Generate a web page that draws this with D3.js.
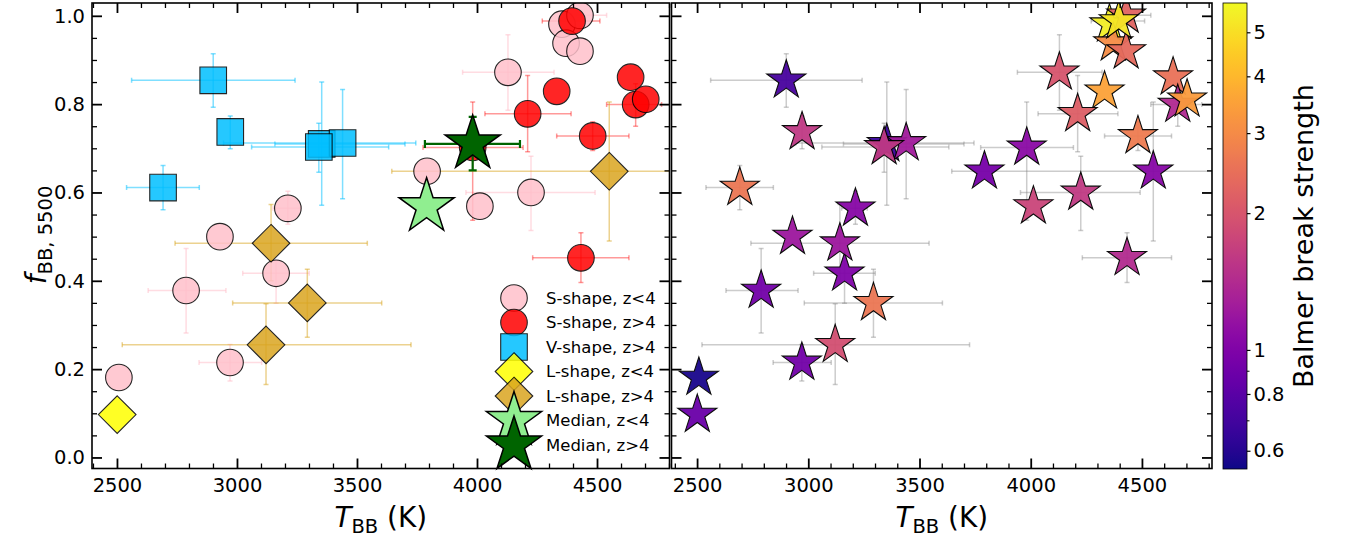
<!DOCTYPE html>
<meta charset="utf-8">
<title>Blackbody fraction vs temperature</title>
<script src="https://d3js.org/d3.v7.min.js"></script>
<style>
  body { margin: 0; background: #fff; }
  text { font-family: "DejaVu Sans", sans-serif; fill: #000; }
</style>
<body>
<svg width="1348" height="544"></svg>
<script>

// ---- data ----
// S-shape, z<4
var sLowT = [2508, 2788, 2929, 2971, 3163, 3212, 3792, 4012, 4225, 4129, 4354, 4429, 4371, 4429];
var sLowF = [0.181, 0.378, 0.500, 0.215, 0.417, 0.564, 0.648, 0.569, 0.600, 0.872, 0.981, 1.001, 0.938, 0.920];
var sLowTerr = [null, [2630, 2954], null, [2842, 3103], [3024, 3301], [3150, 3265], null, null, [3954, 4492], [3940, 4321], null, [4395, 4540], null, null];
var sLowFerr = [null, [0.282, 0.473], null, [0.173, 0.256], [0.349, 0.446], [0.528, 0.603], null, null, [0.514, 0.682], [0.786, 0.957], null, null, null, null];
var sLowBalmer = [0.57, 0.92, 1.2, 0.92, 1.0, 1.05, 0.95, 1.75, 1.6, 2.0, 5.5, 2.25, 3.05, 2.35];

// S-shape, z>4
var sHighT = [4396, 4332, 4211, 4482, 4640, 4661, 4703, 4433, 3982];
var sHighF = [0.988, 0.829, 0.778, 0.728, 0.861, 0.799, 0.811, 0.452, 0.702];
var sHighTerr = [[4272, 4512], null, [4033, 4392], [4332, 4633], null, [4540, 4769], null, [4232, 4633], [3775, 4192]];
var sHighFerr = [null, null, [0.692, 0.865], [0.695, 0.760], null, [0.750, 0.846], null, [0.396, 0.509], [0.537, 0.805]];
var sHighBalmer = [5.2, 3.5, 2.15, 2.7, 2.5, 1.4, 3.35, 1.42, 1.08];

// V-shape, z>4
var vHighT = [2901, 2972, 2692, 3353, 3440, 3341];
var vHighF = [0.854, 0.737, 0.611, 0.710, 0.712, 0.703];
var vHighTerr = [[2561, 3242], null, [2540, 2843], [3158, 3700], [2944, 3745], [3061, 3632]];
var vHighFerr = [[0.793, 0.914], [0.699, 0.773], [0.561, 0.661], [0.571, 0.850], [0.586, 0.833], [0.646, 0.757]];
var vHighBalmer = [0.72, 1.58, 2.6, 0.66, 1.25, 1.58];

// L-shape, z<4
var lLowT = [2501];
var lLowF = [0.097];
var lLowBalmer = [0.88];

// L-shape, z>4
var lHighT = [3142, 3293, 3121, 4551];
var lHighF = [0.485, 0.350, 0.255, 0.648];
var lHighTerr = [[2742, 3543], [2982, 3603], [2522, 3725], [3645, 4850]];
var lHighFerr = [[0.400, 0.573], [0.272, 0.426], [0.165, 0.348], [0.490, 0.805]];
var lHighBalmer = [1.2, 2.6, 1.9, 1.05];

// medians
var medLowT = [3790], medLowF = [0.568];
var medHighT = [3982], medHighF = [0.710];
var medHighTerr = [[3783, 4179]], medHighFerr = [[0.650, 0.771]];

var xMajorTicks = [2500, 3000, 3500, 4000, 4500];
var yMajorTicks = [0, 0.2, 0.4, 0.6, 0.8, 1.0];
var cbarTicks = [0.6, 0.8, 1, 2, 3, 4, 5];
var cbarMinor = [0.7, 0.9];

// ---- groups built from the arrays ----
var groups = [
  {name: "S-shape, z<4", shape: "circle", fill: "pink", err: "rgba(255,192,203,0.55)", T: sLowT, F: sLowF, Terr: sLowTerr, Ferr: sLowFerr, B: sLowBalmer},
  {name: "S-shape, z>4", shape: "circle", fill: "red", err: "rgba(255,0,0,0.4)", T: sHighT, F: sHighF, Terr: sHighTerr, Ferr: sHighFerr, B: sHighBalmer},
  {name: "V-shape, z>4", shape: "square", fill: "deepskyblue", err: "rgba(0,191,255,0.5)", T: vHighT, F: vHighF, Terr: vHighTerr, Ferr: vHighFerr, B: vHighBalmer},
  {name: "L-shape, z<4", shape: "diamond", fill: "yellow", err: "rgba(255,255,0,0.5)", T: lLowT, F: lLowF, Terr: [null], Ferr: [null], B: lLowBalmer},
  {name: "L-shape, z>4", shape: "diamond", fill: "goldenrod", err: "rgba(218,165,32,0.5)", T: lHighT, F: lHighF, Terr: lHighTerr, Ferr: lHighFerr, B: lHighBalmer}
];
var medians = [
  {name: "Median, z<4", shape: "bigstar", fill: "lightgreen", err: "lightgreen", T: medLowT, F: medLowF, Terr: [null], Ferr: [null]},
  {name: "Median, z>4", shape: "bigstar", fill: "darkgreen", err: "darkgreen", T: medHighT, F: medHighF, Terr: medHighTerr, Ferr: medHighFerr}
];

function toPoints(g) {
  return g.T.map(function(t, i) {
    return {T: t, F: g.F[i], Terr: g.Terr[i], Ferr: g.Ferr[i], B: g.B ? g.B[i] : null};
  });
}

// ---- layout ----
var svg = d3.select("svg");
var yTop = 3, yBot = 468.5;
var leftX = [92, 669.5], rightX = [671.5, 1212];

var y = d3.scaleLinear().domain([-0.025, 1.029]).range([yBot, yTop]);
var xL = d3.scaleLinear().domain([2396, 4802]).range(leftX);
var xR = d3.scaleLinear().domain([2385, 4815]).range(rightX);
var color = d3.scaleSequentialLog(d3.interpolatePlasma).domain([0.547, 5.8]);

function starPath(R) {
  var r = R * 0.381966, pts = [];
  for (var i = 0; i < 10; i++) {
    var a = -Math.PI / 2 + i * Math.PI / 5, rr = i % 2 ? r : R;
    pts.push([rr * Math.cos(a), rr * Math.sin(a)]);
  }
  return "M" + pts.join("L") + "Z";
}
function markerPath(shape) {
  if (shape === "circle") {
    var p = d3.path();
    p.arc(0, 0, 13.3, 0, 2 * Math.PI);
    p.closePath();
    return p.toString();
  }
  if (shape === "square") return "M-13.3,-13.3H13.3V13.3H-13.3Z";
  if (shape === "diamond") return "M0,-18.8L18.8,0L0,18.8L-18.8,0Z";
  if (shape === "bigstar") return starPath(29);
  return starPath(20.5);
}

var defs = svg.append("defs");
[["clipL", leftX], ["clipR", rightX]].forEach(function(c) {
  defs.append("clipPath").attr("id", c[0]).append("rect")
      .attr("x", c[1][0]).attr("y", yTop).attr("width", c[1][1] - c[1][0]).attr("height", yBot - yTop);
});

function drawErrors(g, pts, x, col, lw, cap) {
  pts.forEach(function(d) {
    if (d.Terr) {
      g.append("line").attr("x1", x(d.Terr[0])).attr("x2", x(d.Terr[1]))
          .attr("y1", y(d.F)).attr("y2", y(d.F));
      d.Terr.forEach(function(v) {
        g.append("line").attr("x1", x(v)).attr("x2", x(v))
            .attr("y1", y(d.F) - cap).attr("y2", y(d.F) + cap);
      });
    }
    if (d.Ferr) {
      g.append("line").attr("x1", x(d.T)).attr("x2", x(d.T))
          .attr("y1", y(d.Ferr[0])).attr("y2", y(d.Ferr[1]));
      d.Ferr.forEach(function(v) {
        g.append("line").attr("x1", x(d.T) - cap).attr("x2", x(d.T) + cap)
            .attr("y1", y(v)).attr("y2", y(v));
      });
    }
  });
  g.selectAll("line").attr("stroke", col).attr("stroke-width", lw);
}

// ---- left panel ----
var gL = svg.append("g").attr("clip-path", "url(#clipL)");
var errL = gL.append("g");
groups.forEach(function(grp) {
  drawErrors(errL.append("g"), toPoints(grp), xL, grp.err, 1.5, 2.5);
});
groups.forEach(function(grp) {
  gL.append("g").selectAll("path").data(toPoints(grp)).enter().append("path")
      .attr("d", markerPath(grp.shape))
      .attr("transform", function(d) { return "translate(" + xL(d.T) + "," + y(d.F) + ")"; })
      .attr("fill", grp.fill).attr("stroke", "#000").attr("stroke-width", 1.1)
      .attr("opacity", 0.85);
});
medians.forEach(function(grp) {
  drawErrors(gL.append("g"), toPoints(grp), xL, grp.err, 2.2, 4);
  gL.append("g").selectAll("path").data(toPoints(grp)).enter().append("path")
      .attr("d", markerPath(grp.shape))
      .attr("transform", function(d) { return "translate(" + xL(d.T) + "," + y(d.F) + ")"; })
      .attr("fill", grp.fill).attr("stroke", "#000").attr("stroke-width", 1.5);
});

// legend
var legend = svg.append("g").attr("transform", "translate(514,298)");
groups.concat(medians).forEach(function(grp, i) {
  var row = legend.append("g").attr("transform", "translate(0," + (i * 24.5) + ")");
  row.append("path").attr("d", markerPath(grp.shape))
      .attr("fill", grp.fill).attr("stroke", "#000")
      .attr("stroke-width", grp.shape === "bigstar" ? 1.5 : 1.1)
      .attr("opacity", grp.shape === "bigstar" ? 1 : 0.85);
  row.append("text").attr("x", 32).attr("dy", "0.35em")
      .style("font-size", "16.5px").text(grp.name);
});

// ---- right panel ----
var gR = svg.append("g").attr("clip-path", "url(#clipR)");
var allPts = [];
groups.forEach(function(grp) { allPts = allPts.concat(toPoints(grp)); });
drawErrors(gR.append("g"), allPts, xR, "rgba(128,128,128,0.4)", 1.5, 2.5);
gR.append("g").selectAll("path").data(allPts).enter().append("path")
    .attr("d", markerPath("star"))
    .attr("transform", function(d) { return "translate(" + xR(d.T) + "," + y(d.F) + ")"; })
    .attr("fill", function(d) { return color(d.B); })
    .attr("stroke", "#000").attr("stroke-width", 1.1).attr("opacity", 0.95);

// ---- axes: inward ticks on all four sides ----
function styleAxis(sel, w) {
  sel.select(".domain").remove();
  sel.selectAll(".tick line").attr("stroke", "#000").attr("stroke-width", w);
  sel.selectAll(".tick text").style("font-size", "19.5px").style("font-family", "DejaVu Sans");
}
function drawFrame(x, labelY) {
  var xr = x.range();
  var xMinor = d3.range(2400, 4801, 100).filter(function(v) { return v % 500 !== 0; });
  var yMinor = d3.range(0, 21).map(function(i) { return i * 0.05; }).filter(function(v, i) { return i % 4 !== 0; });
  var ax = svg.append("g");

  ax.append("g").attr("transform", "translate(0," + yBot + ")")
      .call(d3.axisBottom(x).tickValues(xMajorTicks).tickSize(-10).tickPadding(10).tickFormat(d3.format("d")))
      .call(styleAxis, 1.8);
  ax.append("g").attr("transform", "translate(0," + yBot + ")")
      .call(d3.axisBottom(x).tickValues(xMinor).tickSize(-5).tickFormat(""))
      .call(styleAxis, 1.3);
  ax.append("g").attr("transform", "translate(0," + yTop + ")")
      .call(d3.axisTop(x).tickValues(xMajorTicks).tickSize(-10).tickFormat(""))
      .call(styleAxis, 1.8);
  ax.append("g").attr("transform", "translate(0," + yTop + ")")
      .call(d3.axisTop(x).tickValues(xMinor).tickSize(-5).tickFormat(""))
      .call(styleAxis, 1.3);

  ax.append("g").attr("transform", "translate(" + xr[0] + ",0)")
      .call(d3.axisLeft(y).tickValues(yMajorTicks).tickSize(-10).tickPadding(7)
        .tickFormat(labelY ? d3.format(".1f") : ""))
      .call(styleAxis, 1.8);
  ax.append("g").attr("transform", "translate(" + xr[0] + ",0)")
      .call(d3.axisLeft(y).tickValues(yMinor).tickSize(-5).tickFormat(""))
      .call(styleAxis, 1.3);
  ax.append("g").attr("transform", "translate(" + xr[1] + ",0)")
      .call(d3.axisRight(y).tickValues(yMajorTicks).tickSize(-10).tickFormat(""))
      .call(styleAxis, 1.8);
  ax.append("g").attr("transform", "translate(" + xr[1] + ",0)")
      .call(d3.axisRight(y).tickValues(yMinor).tickSize(-5).tickFormat(""))
      .call(styleAxis, 1.3);

  ax.append("rect").attr("x", xr[0]).attr("y", yTop)
      .attr("width", xr[1] - xr[0]).attr("height", yBot - yTop)
      .attr("fill", "none").attr("stroke", "#000").attr("stroke-width", 1.6);

  var xl = ax.append("text").attr("x", (xr[0] + xr[1]) / 2).attr("y", 527)
      .attr("text-anchor", "middle").style("font-size", "27.8px");
  xl.append("tspan").style("font-style", "italic").text("T");
  xl.append("tspan").attr("dy", 6).style("font-size", "19.5px").text("BB");
  xl.append("tspan").attr("dy", -6).text(" (K)");
}
drawFrame(xL, true);
drawFrame(xR, false);

var yl = svg.append("text").attr("transform", "translate(46,235) rotate(-90)")
    .attr("text-anchor", "middle").style("font-size", "27.8px");
yl.append("tspan").style("font-style", "italic").text("f");
yl.append("tspan").attr("dy", 6).style("font-size", "19.5px").text("BB, 5500");

// ---- colorbar ----
var cb = {x: 1223, w: 24, y0: 3, y1: 469};
var cScale = d3.scaleLog().domain(color.domain()).range([cb.y1, cb.y0]);
var grad = defs.append("linearGradient").attr("id", "plasma")
    .attr("x1", 0).attr("y1", 1).attr("x2", 0).attr("y2", 0);
d3.range(0, 1.0001, 0.02).forEach(function(t) {
  grad.append("stop").attr("offset", t).attr("stop-color", d3.interpolatePlasma(t));
});
svg.append("rect").attr("x", cb.x).attr("y", cb.y0).attr("width", cb.w).attr("height", cb.y1 - cb.y0)
    .attr("fill", "url(#plasma)").attr("stroke", "#000").attr("stroke-width", 0.8);
svg.append("g").attr("transform", "translate(" + (cb.x + cb.w) + ",0)")
    .call(d3.axisRight(cScale).tickValues(cbarTicks).tickSize(3.5).tickPadding(3)
      .tickFormat(function(d) { return d; }))
    .call(styleAxis, 1.2);
svg.append("g").attr("transform", "translate(" + (cb.x + cb.w) + ",0)")
    .call(d3.axisRight(cScale).tickValues(cbarMinor).tickSize(2.5).tickFormat(""))
    .call(styleAxis, 1);
svg.append("text").attr("transform", "translate(1313,236) rotate(-90)")
    .attr("text-anchor", "middle").style("font-size", "27px")
    .text("Balmer break strength");

</script>
</body>
